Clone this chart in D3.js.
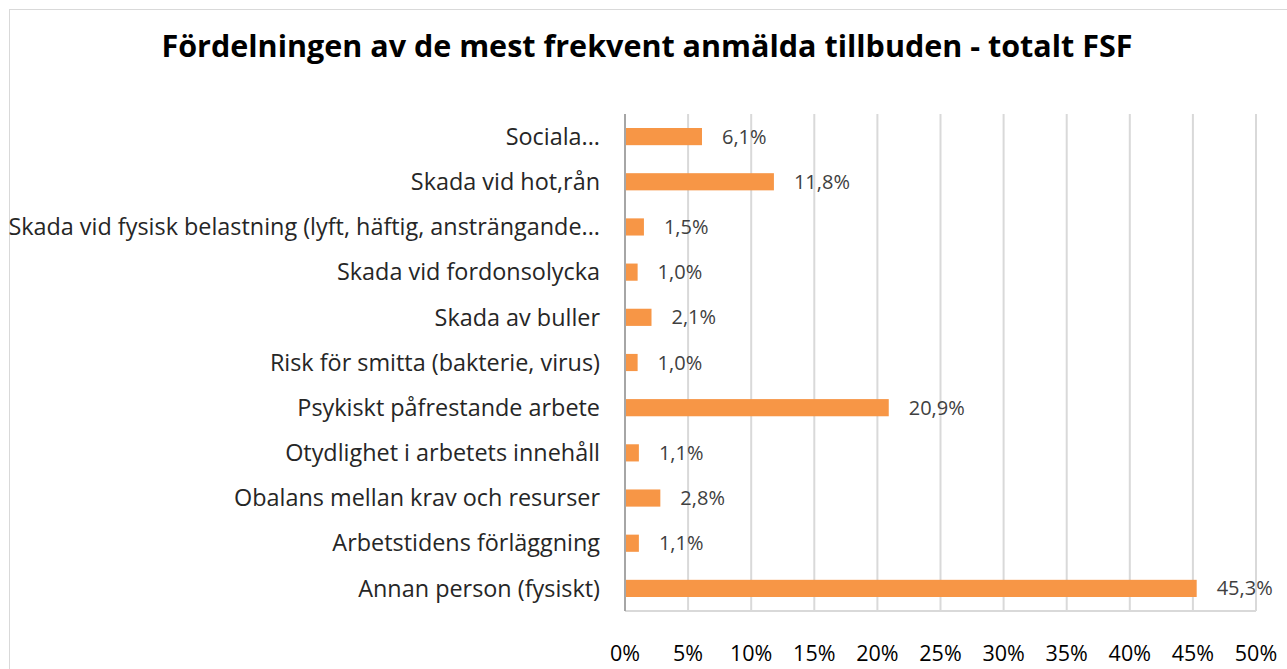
<!DOCTYPE html>
<html>
<head>
<meta charset="utf-8">
<script src="https://cdn.jsdelivr.net/npm/d3@7"></script>
<style>
  body { margin: 0; background: #fff; }
  svg { display: block; }
</style>
</head>
<body>
<svg id="chart" width="1287" height="669"></svg>
<script>
// data, top to bottom
var categories = [
    "Sociala...",
    "Skada vid hot,rån",
    "Skada vid fysisk belastning (lyft, häftig, ansträngande...",
    "Skada vid fordonsolycka",
    "Skada av buller",
    "Risk för smitta (bakterie, virus)",
    "Psykiskt påfrestande arbete",
    "Otydlighet i arbetets innehåll",
    "Obalans mellan krav och resurser",
    "Arbetstidens förläggning",
    "Annan person (fysiskt)"
];
var values = [6.1, 11.8, 1.5, 1.0, 2.1, 1.0, 20.9, 1.1, 2.8, 1.1, 45.3];
var ticks = [0, 5, 10, 15, 20, 25, 30, 35, 40, 45, 50];
var title = "Fördelningen av de mest frekvent anmälda tillbuden - totalt FSF";

(function(){
    var svg = d3.select("#chart");
    var font = "'Open Sans', 'Noto Sans', sans-serif";

    // chart frame
    svg.append("rect")
        .attr("x", 9.5).attr("y", 9.5)
        .attr("width", 1290).attr("height", 680)
        .attr("fill", "#fff")
        .attr("stroke", "#d9d9d9");

    svg.append("text")
        .attr("x", 647).attr("y", 46)
        .attr("dy", "0.35em")
        .attr("text-anchor", "middle")
        .style("font-family", font)
        .style("font-weight", "bold")
        .style("font-size", "30.5px")
        .style("fill", "#000")
        .text(title);

    var left = 625, right = 1256, top = 114, bottom = 611;

    var x = d3.scaleLinear().domain([0, 50]).range([left, right]);
    var y = d3.scaleBand().domain(categories).range([top, bottom]).paddingInner(0.62).paddingOuter(0.31);

    // grid
    svg.append("g").selectAll("line")
        .data(ticks.slice(1))
        .enter().append("line")
        .attr("x1", function(d){ return x(d); })
        .attr("x2", function(d){ return x(d); })
        .attr("y1", top).attr("y2", bottom)
        .attr("stroke", "#d9d9d9")
        .attr("stroke-width", 2);

    svg.append("line")
        .attr("x1", left).attr("x2", right)
        .attr("y1", bottom).attr("y2", bottom)
        .attr("stroke", "#d9d9d9").attr("stroke-width", 2);

    // bars
    svg.selectAll(".bar")
        .data(values)
        .enter().append("rect")
        .attr("class", "bar")
        .attr("x", x(0))
        .attr("y", function(d, i){ return y(categories[i]); })
        .attr("width", function(d){ return x(d) - x(0); })
        .attr("height", y.bandwidth())
        .attr("fill", "#F79646");

    // value axis line
    svg.append("line")
        .attr("x1", left).attr("x2", left)
        .attr("y1", top).attr("y2", bottom)
        .attr("stroke", "#a6a6a6").attr("stroke-width", 2);

    // value labels
    svg.selectAll(".val")
        .data(values)
        .enter().append("text")
        .attr("class", "val")
        .attr("x", function(d){ return x(d) + 20; })
        .attr("y", function(d, i){ return y(categories[i]) + y.bandwidth() / 2; })
        .attr("dy", "0.35em")
        .style("font-family", font)
        .style("font-size", "20px")
        .style("fill", "#404040")
        .text(function(d){ return d.toFixed(1).replace(".", ",") + "%"; });

    // category labels
    svg.selectAll(".cat")
        .data(categories)
        .enter().append("text")
        .attr("class", "cat")
        .attr("x", 600)
        .attr("y", function(d){ return y(d) + y.bandwidth() / 2; })
        .attr("dy", "0.35em")
        .attr("text-anchor", "end")
        .style("font-family", font)
        .style("font-size", "23.4px")
        .style("fill", "#262626")
        .text(function(d){ return d; });

    // tick labels
    svg.selectAll(".tick")
        .data(ticks)
        .enter().append("text")
        .attr("class", "tick")
        .attr("x", function(d){ return x(d); })
        .attr("y", 661)
        .attr("text-anchor", "middle")
        .style("font-family", font)
        .style("font-size", "21.5px")
        .style("fill", "#000")
        .text(function(d){ return d + "%"; });
})();
</script>
</body>
</html>
